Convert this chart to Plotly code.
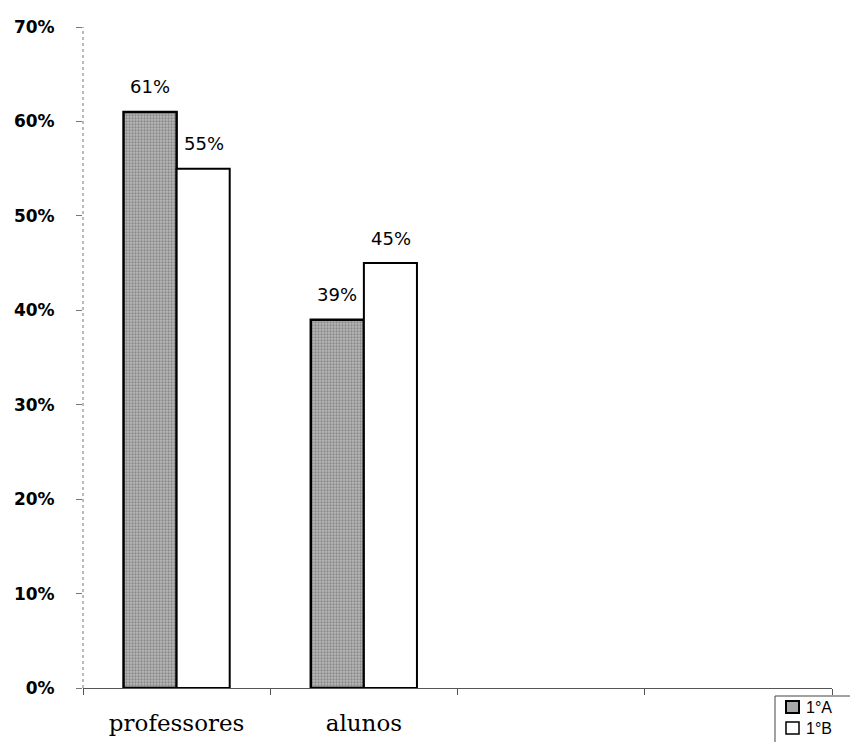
import plotly.graph_objects as go

# Categories (the last two slots are left empty on the axis)
categorias = ["professores", "alunos", " ", "  "]
serie_1A = [0.61, 0.39, None, None]
serie_1B = [0.55, 0.45, None, None]
nomes = ["1°A", "1°B"]
y_ticks = [0.0, 0.1, 0.2, 0.3, 0.4, 0.5, 0.6, 0.7]
y_ticktext = ["0%", "10%", "20%", "30%", "40%", "50%", "60%", "70%"]

# Plot-area geometry in pixels (used to place the legend box in paper units)
W, H = 850, 742
M_L, M_R, M_T, M_B = 83, 18, 27, 54
PW, PH = W - M_L - M_R, H - M_T - M_B


def px_x(px):
    return (px - M_L) / PW


def px_y(py):
    return (H - M_B - py) / PH


cor_1A = "#a8a8a8"

fig = go.Figure()

fig.add_trace(go.Bar(
    x=categorias, y=serie_1A, name=nomes[0],
    marker=dict(
        color=cor_1A,
        line=dict(color="black", width=2.5),
        pattern=dict(shape=".", fgcolor="#5a5a5a", bgcolor="#b8b8b8",
                     size=3, solidity=0.45, fillmode="overlay"),
    ),
))
fig.add_trace(go.Bar(
    x=categorias, y=serie_1B, name=nomes[1],
    marker=dict(color="white", line=dict(color="black", width=2)),
))

# Value labels above each bar
bar_offset = 27
for serie, dx in ((serie_1A, -bar_offset), (serie_1B, bar_offset)):
    for cat, v in zip(categorias, serie):
        if v is None:
            continue
        fig.add_annotation(
            x=cat, y=v, text=f"{round(v * 100)}%", showarrow=False,
            xshift=dx, yshift=25, yanchor="middle",
            font=dict(family="DejaVu Sans", size=18, color="black"),
        )

# Dotted value axis line
fig.add_shape(type="line", xref="paper", yref="paper", x0=0, x1=0, y0=0, y1=1,
              line=dict(color="#777777", width=1, dash="dot"))

# Compact legend box in the lower-right corner
fig.add_shape(type="rect", xref="paper", yref="paper",
              x0=px_x(775), x1=px_x(870), y0=px_y(760), y1=px_y(696),
              line=dict(color="#444444", width=1), fillcolor="white")
swatches = [(cor_1A, 701, 713, 2), ("white", 722, 734, 1.5)]
for nome, (fill, top, bottom, lw) in zip(nomes, swatches):
    fig.add_shape(type="rect", xref="paper", yref="paper",
                  x0=px_x(786), x1=px_x(799), y0=px_y(bottom), y1=px_y(top),
                  line=dict(color="black", width=lw), fillcolor=fill)
    fig.add_annotation(xref="paper", yref="paper", x=px_x(805),
                       y=px_y((top + bottom) / 2), text=nome, showarrow=False,
                       xanchor="left", yanchor="middle", borderpad=0,
                       font=dict(family="Arial", size=16, color="black"))

fig.update_layout(
    width=W, height=H,
    margin=dict(l=M_L, r=M_R, t=M_T, b=M_B, autoexpand=False),
    paper_bgcolor="white", plot_bgcolor="white",
    barmode="group", bargap=0.433, bargroupgap=0,
    showlegend=False,
    xaxis=dict(
        type="category", categoryorder="array", categoryarray=categorias,
        range=[-0.5, 3.5],
        showline=True, linecolor="#555555", linewidth=1,
        ticks="outside", tickson="boundaries", ticklen=6, tickcolor="#555555",
        showgrid=False, zeroline=False,
        tickfont=dict(family="DejaVu Serif", size=23, color="black"),
        ticklabelstandoff=14,
    ),
    yaxis=dict(
        range=[0, 0.7], tickvals=y_ticks, ticktext=y_ticktext,
        showline=False, showgrid=False, zeroline=False,
        ticks="outside", ticklen=6, tickcolor="#777777",
        tickfont=dict(family="DejaVu Sans", size=17, color="black", weight="bold"),
        ticklabelstandoff=18,
    ),
)

fig.write_html("out.html")
